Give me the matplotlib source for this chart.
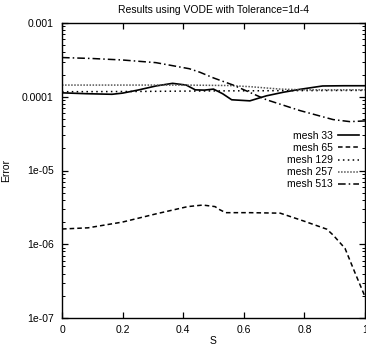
import matplotlib
matplotlib.use("Agg")
import matplotlib.pyplot as plt
from matplotlib.ticker import LogLocator, FixedLocator, NullLocator, FixedFormatter

plt.rcParams['font.family'] = ['Liberation Sans', 'DejaVu Sans']

title = "Results using VODE with Tolerance=1d-4"
xlabel = "S"
ylabel = "Error"

# mesh 33
s33 = [0.0, 0.08, 0.165, 0.2, 0.25, 0.31, 0.365, 0.41, 0.44, 0.47, 0.50, 0.53, 0.56, 0.62, 0.675, 0.73, 0.785, 0.86, 0.93, 1.0]
e33 = [1.13e-4, 1.10e-4, 1.08e-4, 1.12e-4, 1.23e-4, 1.40e-4, 1.52e-4, 1.44e-4, 1.24e-4, 1.23e-4, 1.27e-4, 1.10e-4, 9.1e-5, 8.8e-5, 1.03e-4, 1.15e-4, 1.26e-4, 1.40e-4, 1.41e-4, 1.41e-4]

# mesh 65
s65 = [0.0, 0.086, 0.2, 0.31, 0.415, 0.465, 0.505, 0.52, 0.54, 0.62, 0.72, 0.797, 0.874, 0.895, 0.934, 0.967, 1.0]
e65 = [1.61e-6, 1.67e-6, 2.0e-6, 2.58e-6, 3.24e-6, 3.4e-6, 3.24e-6, 2.95e-6, 2.68e-6, 2.68e-6, 2.64e-6, 2.07e-6, 1.6e-6, 1.33e-6, 8.8e-7, 4.1e-7, 1.95e-7]

# mesh 129
s129 = [0.0, 0.25, 0.5, 0.75, 1.0]
e129 = [1.17e-4, 1.18e-4, 1.20e-4, 1.21e-4, 1.22e-4]

# mesh 257
s257 = [0.0, 0.2, 0.4, 0.55, 0.62, 0.72, 0.8, 0.9, 1.0]
e257 = [1.44e-4, 1.44e-4, 1.44e-4, 1.42e-4, 1.37e-4, 1.27e-4, 1.24e-4, 1.24e-4, 1.24e-4]

# mesh 513
s513 = [0.0, 0.1, 0.2, 0.31, 0.42, 0.455, 0.5, 0.565, 0.675, 0.785, 0.895, 0.95, 1.0]
e513 = [3.4e-4, 3.3e-4, 3.15e-4, 2.9e-4, 2.4e-4, 2.15e-4, 1.8e-4, 1.44e-4, 9.1e-5, 6.5e-5, 4.9e-5, 4.6e-5, 4.7e-5]

xticks = [0, 0.2, 0.4, 0.6, 0.8, 1.0]
xticklabels = ["0", "0.2", "0.4", "0.6", "0.8", "1"]
yticks = [1e-7, 1e-6, 1e-5, 1e-4, 1e-3]
yticklabels = ["1e-07", "1e-06", "1e-05", "0.0001", "0.001"]

fs = 7.5

fig = plt.figure(figsize=(3.66, 3.47), dpi=100)
ax = fig.add_axes([62/366, 1 - 318/347, 303/366, 295/347])

ax.plot(s33, e33, color='black', lw=1.2, ls='-', label='mesh 33')
ax.plot(s65, e65, color='black', lw=1.1, ls=(0, (3, 2)), label='mesh 65')
ax.plot(s129, e129, color='black', lw=1.1, ls=(0, (1, 2.2)), label='mesh 129')
ax.plot(s257, e257, color='#555555', lw=1.1, ls=(0, (1, 1)), label='mesh 257')
ax.plot(s513, e513, color='black', lw=1.1, ls=(0, (5, 2, 1, 2)), label='mesh 513')

ax.set_yscale('log')
ax.set_xlim(0, 1)
ax.set_ylim(1e-7, 1e-3)

ax.xaxis.set_major_locator(FixedLocator(xticks))
ax.xaxis.set_major_formatter(FixedFormatter(xticklabels))
ax.xaxis.set_minor_locator(NullLocator())
ax.yaxis.set_major_locator(FixedLocator(yticks))
ax.yaxis.set_major_formatter(FixedFormatter(yticklabels))
ax.yaxis.set_minor_locator(LogLocator(base=10, subs=range(2, 10), numticks=20))

ax.tick_params(which='both', direction='in', top=True, right=True, labelsize=fs, colors='black')
ax.tick_params(which='major', length=4.5, width=0.9)
ax.tick_params(which='minor', length=2.2, width=0.7)
ax.tick_params(axis='y', which='major', pad=6)
ax.tick_params(axis='x', which='major', pad=5)
for sp in ax.spines.values():
    sp.set_linewidth(1.0)

ax.set_title(title, fontsize=fs, pad=7)
ax.set_xlabel(xlabel, fontsize=fs, labelpad=1)
ax.set_ylabel(ylabel, fontsize=fs, labelpad=8)

leg = ax.legend(loc='upper right', bbox_to_anchor=(1.0, 0.655), frameon=False,
                fontsize=fs, markerfirst=False, handlelength=2.0, handletextpad=0.45,
                labelspacing=0.2, borderaxespad=0.2)

fig.savefig('out.png', dpi=100)
